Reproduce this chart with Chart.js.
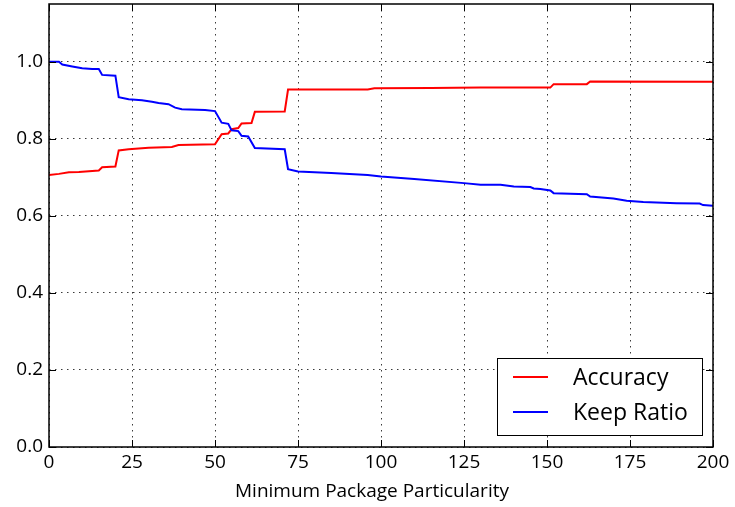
<!DOCTYPE html>
<html>
<head>
<meta charset="utf-8">
<script src="https://cdn.jsdelivr.net/npm/chart.js@4/dist/chart.umd.min.js"></script>
<style>
  html, body { margin: 0; padding: 0; background: #ffffff; }
  #c { display: block; }
</style>
</head>
<body>
<canvas id="c" width="735" height="507"></canvas>
<script>
// Accuracy as the minimum package particularity threshold grows
const accuracyX = [0, 3, 6, 9, 15, 16, 20, 21, 24, 30, 37, 39, 50, 52, 54, 55, 57, 58, 61, 62, 71, 72, 96, 98, 115, 130, 151, 152, 162, 163, 200];
const accuracyY = [0.706, 0.709, 0.713, 0.714, 0.718, 0.726, 0.728, 0.770, 0.773, 0.777, 0.779, 0.784, 0.786, 0.812, 0.814, 0.825, 0.828, 0.840, 0.841, 0.870, 0.871, 0.928, 0.928, 0.931, 0.932, 0.933, 0.933, 0.942, 0.942, 0.949, 0.948];

// Share of packages kept at each threshold
const keepX = [0, 3, 4, 7, 10, 13, 15, 16, 20, 21, 24, 28, 31, 33, 36, 38, 40, 47, 50, 52, 54, 55, 57, 58, 60, 62, 71, 72, 75, 85, 96, 100, 110, 125, 130, 136, 140, 145, 146, 148, 151, 152, 162, 163, 170, 174, 179, 189, 196, 197, 200];
const keepY = [1.000, 1.000, 0.993, 0.988, 0.983, 0.981, 0.981, 0.966, 0.964, 0.908, 0.903, 0.900, 0.896, 0.893, 0.890, 0.881, 0.877, 0.875, 0.872, 0.842, 0.839, 0.822, 0.820, 0.808, 0.806, 0.776, 0.773, 0.721, 0.715, 0.711, 0.706, 0.702, 0.696, 0.685, 0.681, 0.681, 0.676, 0.675, 0.671, 0.670, 0.666, 0.659, 0.656, 0.650, 0.645, 0.639, 0.636, 0.633, 0.632, 0.628, 0.626];

const seriesNames = ['Accuracy', 'Keep Ratio'];
const xTickStep = 25;
const yTickStep = 0.2;
const xLabel = 'Minimum Package Particularity';

const FONT = '"Open Sans", "DejaVu Sans", sans-serif';

const toPoints = (xs, ys) => xs.map((x, i) => ({ x: x, y: ys[i] }));

// Box frame with inward tick marks on all four sides, plus the x-axis caption
const framePlugin = {
  id: 'frame',
  afterDraw(chart) {
    const { ctx, chartArea: a, scales } = chart;
    const len = 7;
    ctx.save();
    ctx.strokeStyle = '#000';
    ctx.lineWidth = 1;
    ctx.beginPath();
    scales.x.ticks.forEach(t => {
      const px = Math.round(scales.x.getPixelForValue(t.value)) + 0.5;
      ctx.moveTo(px, a.bottom); ctx.lineTo(px, a.bottom - len);
      ctx.moveTo(px, a.top); ctx.lineTo(px, a.top + len);
    });
    scales.y.ticks.forEach(t => {
      const py = Math.round(scales.y.getPixelForValue(t.value)) + 0.5;
      ctx.moveTo(a.left, py); ctx.lineTo(a.left + len, py);
      ctx.moveTo(a.right, py); ctx.lineTo(a.right - len, py);
    });
    ctx.stroke();
    ctx.lineWidth = 1.5;
    ctx.strokeRect(a.left, a.top, a.right - a.left, a.bottom - a.top);

    ctx.fillStyle = '#000';
    ctx.font = '19px ' + FONT;
    ctx.textAlign = 'center';
    ctx.textBaseline = 'alphabetic';
    ctx.fillText(xLabel, (a.left + a.right) / 2 - 9, a.bottom + 50);
    ctx.restore();
  }
};

// Boxed legend in the lower right corner of the plot
const boxLegendPlugin = {
  id: 'boxLegend',
  afterDraw(chart) {
    const { ctx, chartArea: a } = chart;
    const w = 205, h = 77;
    const x0 = a.right - 11 - w, y0 = a.bottom - 12 - h;
    ctx.save();
    ctx.fillStyle = '#fff';
    ctx.fillRect(x0, y0, w, h);
    ctx.strokeStyle = '#000';
    ctx.lineWidth = 1;
    ctx.strokeRect(x0 + 0.5, y0 + 0.5, w, h);
    ctx.font = '23px ' + FONT;
    ctx.textBaseline = 'middle';
    chart.data.datasets.forEach((ds, i) => {
      const cy = y0 + 19 + i * 35;
      ctx.strokeStyle = ds.borderColor;
      ctx.lineWidth = 1.8;
      ctx.beginPath();
      ctx.moveTo(x0 + 16, cy);
      ctx.lineTo(x0 + 51, cy);
      ctx.stroke();
      ctx.fillStyle = '#000';
      ctx.fillText(ds.label, x0 + 76, cy + 1);
    });
    ctx.restore();
  }
};

new Chart(document.getElementById('c'), {
  type: 'line',
  data: {
    datasets: [
      {
        label: seriesNames[0],
        data: toPoints(accuracyX, accuracyY),
        borderColor: '#ff0000',
        borderWidth: 2,
        pointRadius: 0,
        tension: 0,
        fill: false,
        order: 1
      },
      {
        label: seriesNames[1],
        data: toPoints(keepX, keepY),
        borderColor: '#0000ff',
        borderWidth: 2,
        pointRadius: 0,
        tension: 0,
        fill: false,
        order: 0
      }
    ]
  },
  options: {
    responsive: false,
    animation: false,
    devicePixelRatio: 1,
    layout: { padding: { left: 0, right: 22, top: 4, bottom: 0 } },
    plugins: {
      legend: { display: false },
      tooltip: { enabled: false }
    },
    scales: {
      x: {
        type: 'linear',
        min: 0,
        max: 200,
        ticks: {
          stepSize: xTickStep,
          color: '#000',
          font: { family: FONT, size: 19 },
          padding: 4,
          maxRotation: 0
        },
        grid: { color: '#3a3a3a', lineWidth: 1, drawTicks: false },
        border: { display: false, dash: [1.5, 4.5] },
        afterFit(scale) { scale.height = 60; }
      },
      y: {
        type: 'linear',
        min: 0,
        max: 1.15,
        ticks: {
          stepSize: yTickStep,
          includeBounds: false,
          color: '#000',
          font: { family: FONT, size: 19 },
          padding: 6,
          callback: v => v.toFixed(1)
        },
        grid: { color: '#3a3a3a', lineWidth: 1, drawTicks: false },
        border: { display: false, dash: [1.5, 4.5] },
        afterFit(scale) {
          scale.width = 49;
          scale.paddingTop = 0;
          scale.paddingBottom = 0;
        }
      }
    }
  },
  plugins: [framePlugin, boxLegendPlugin]
});
</script>
</body>
</html>
